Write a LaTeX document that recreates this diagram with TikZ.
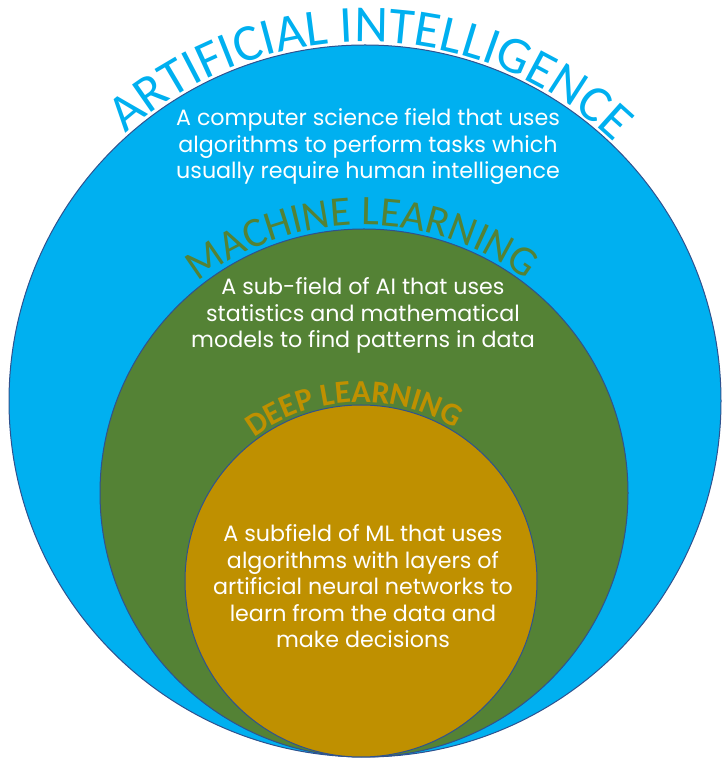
\documentclass[tikz,border=0pt]{standalone}
\usepackage{fontspec}
\setmainfont{Poppins}
\newfontfamily\headfont{Carlito}
\usetikzlibrary{decorations.text}

\definecolor{aiblue}{HTML}{00B0F0}
\definecolor{mlgreen}{HTML}{548235}
\definecolor{dlgold}{HTML}{BF9000}
\definecolor{rimblue}{HTML}{2F528F}

\begin{document}
\begin{tikzpicture}[x=1pt,y=1pt]
	\tikzset{field/.style={circle, draw=rimblue, line width=1pt, inner sep=0pt}};
	\tikzset{blurb/.style={text=white, align=center, anchor=base, font=\fontsize{22.2}{26.5}\selectfont}};
	\useasboundingbox (0,0) rectangle (721,761);

	\node[field,fill=aiblue,minimum size=712] (ai) at (365,360) {};
	\node[field,fill=mlgreen,minimum size=528] (ml) at (364,268) {};
	\node[field,fill=dlgold,minimum size=352] (dl) at (361,180) {};

	\path[decorate,decoration={text along path,text align=center,text color=aiblue,
		text={|\headfont\fontsize{52}{52}\selectfont|ARTIFICIAL INTELLIGENCE}}]
		([shift={(179:359)}]ai.center) arc[start angle=179, end angle=-1, radius=359];
	\path[decorate,decoration={text along path,text align=center,text color=mlgreen,
		text={|\headfont\fontsize{42}{42}\selectfont|MACHINE LEARNING}}]
		([shift={(180.5:268)}]ml.center) arc[start angle=180.5, end angle=0.5, radius=268];
	\path[decorate,decoration={text along path,text align=center,text color=dlgold,
		text={|\headfont\bfseries\fontsize{32}{32}\selectfont|DEEP LEARNING}}]
		([shift={(182.5:179)}]dl.center) arc[start angle=182.5, end angle=2.5, radius=179];

	\node[blurb] (aitext) at (368,582) {A computer science field that uses\\algorithms to perform tasks which\\usually require human intelligence};
	\node[blurb] (mltext) at (363,413) {A sub-field of AI that uses\\statistics and mathematical\\models to find patterns in data};
	\node[blurb] (dltext) at (363,113) {A subfield of ML that uses\\algorithms with layers of\\artificial neural networks to\\learn from the data and\\make decisions};
\end{tikzpicture}
\end{document}
